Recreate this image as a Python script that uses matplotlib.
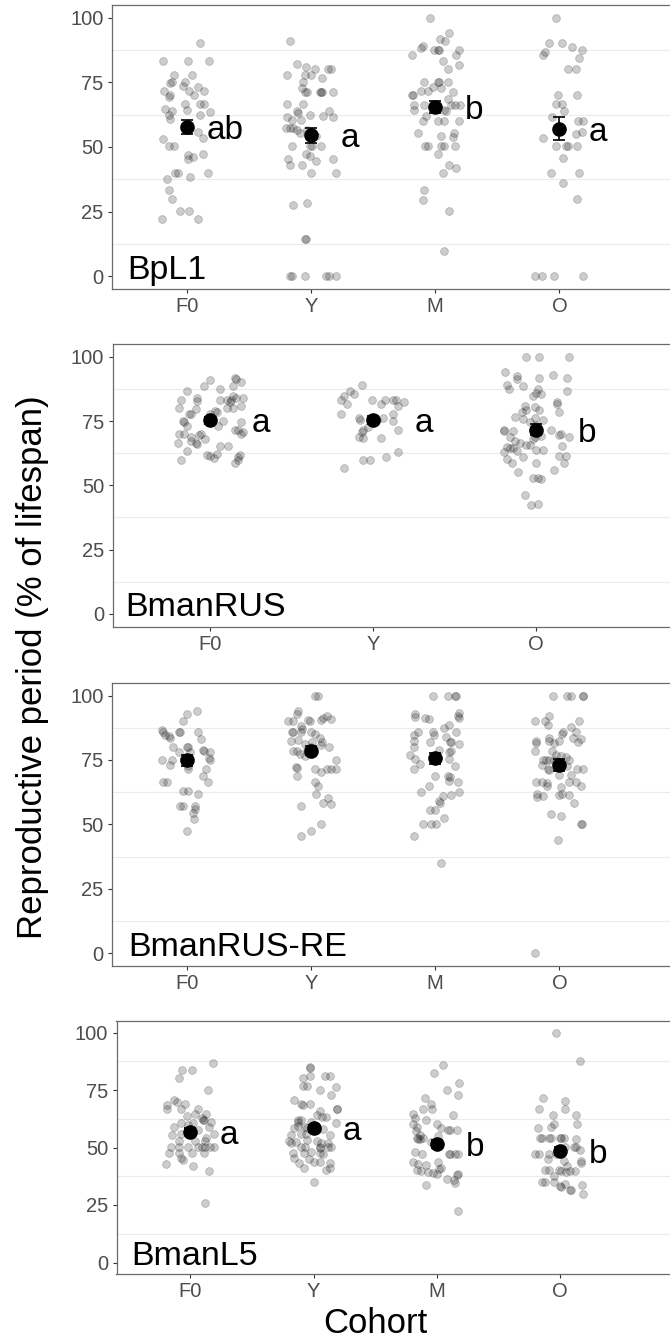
import matplotlib
matplotlib.use("Agg")
import matplotlib.pyplot as plt
from matplotlib.transforms import offset_copy, blended_transform_factory

plt.rcParams['font.family'] = ['Liberation Sans', 'DejaVu Sans']

# ---------------- data ----------------
cohorts_4 = ["F0", "Y", "M", "O"]
cohorts_3 = ["F0", "Y", "O"]

# BpL1
bpl1_F0_vals = [90.1, 83.4, 83.4, 83.4, 77.8, 77.8, 75.3, 74.9, 75.2, 73.6, 71.7, 71.7, 71.7, 73.3, 70.0, 69.4, 70.1, 66.8, 66.8, 66.8, 64.9, 63.8, 64.5, 63.6, 62.4, 62.3, 61.0, 55.7, 53.4, 53.1, 50.2, 50.2, 46.8, 46.3, 47.2, 45.5, 40.1, 40.1, 40.1, 38.5, 37.5, 33.4, 30.0, 25.1, 25.1, 22.2, 22.2]
bpl1_F0_jit = [0.11, -0.19, 0.01, 0.18, -0.10, 0.04, -0.12, -0.13, -0.01, -0.03, -0.18, 0.02, 0.14, 0.09, -0.13, -0.14, 0.06, -0.01, 0.11, 0.14, -0.17, -0.12, 0.00, 0.19, 0.11, -0.14, -0.13, 0.09, 0.13, -0.19, -0.14, -0.10, 0.01, 0.05, 0.13, 0.01, -0.09, -0.07, 0.17, 0.03, -0.16, -0.14, -0.12, -0.05, 0.02, -0.20, 0.09]
bpl1_Y_vals = [90.9, 82.1, 80.8, 80.1, 80.1, 80.1, 77.8, 77.8, 77.8, 76.9, 75.2, 72.9, 71.3, 71.3, 71.3, 71.3, 71.3, 71.3, 66.6, 66.8, 63.8, 63.2, 62.5, 63.8, 61.9, 61.6, 61.6, 60.3, 60.3, 57.2, 57.2, 57.2, 56.7, 55.4, 56.4, 54.1, 50.2, 50.2, 50.2, 50.2, 47.3, 46.7, 45.5, 45.3, 44.5, 43.0, 43.0, 40.1, 40.1, 27.4, 28.5, 14.3, 14.3, 0, 0, 0, 0, 0, 0]
bpl1_Y_jit = [-0.17, -0.11, -0.04, 0.03, 0.14, 0.16, -0.19, -0.05, 0.00, 0.09, -0.06, -0.07, -0.05, -0.03, 0.07, 0.08, 0.09, 0.18, -0.19, -0.06, -0.11, -0.10, -0.01, 0.15, 0.10, 0.18, -0.19, -0.15, -0.08, -0.20, -0.17, -0.14, -0.11, -0.09, -0.03, 0.04, -0.01, -0.15, 0.08, 0.01, -0.04, -0.01, -0.18, 0.18, 0.04, -0.17, -0.07, 0.00, 0.20, -0.14, -0.03, -0.05, -0.04, -0.17, -0.15, -0.05, 0.12, 0.15, 0.20]
bpl1_M_vals = [100, 94.1, 91.8, 90.9, 89.2, 87.6, 87.6, 87.6, 88.2, 87.6, 85.7, 85.7, 83.2, 81.8, 80.1, 75.2, 75.2, 75.2, 75.2, 73.3, 72.9, 71.7, 71.7, 71.3, 70.1, 70.1, 68.7, 66.4, 66.4, 66.4, 66.4, 66.4, 64.5, 63.8, 64.5, 61.9, 59.9, 59.9, 59.9, 59.9, 55.4, 55.4, 54.4, 53.8, 50.2, 50.2, 50.2, 50.2, 50.2, 47.2, 43.0, 41.7, 40.1, 33.5, 29.6, 25.1, 9.9]
bpl1_M_jit = [-0.04, 0.11, 0.04, 0.08, -0.10, -0.01, 0.02, 0.03, -0.11, 0.19, -0.19, 0.17, 0.06, 0.19, 0.10, -0.09, 0.02, 0.03, 0.10, -0.02, 0.05, -0.11, -0.06, 0.14, -0.19, -0.18, 0.10, -0.17, -0.09, 0.13, 0.16, 0.20, 0.07, 0.09, -0.17, -0.07, 0.02, 0.07, -0.10, 0.19, -0.14, 0.15, 0.05, 0.14, -0.08, -0.06, 0.05, 0.07, 0.16, 0.02, 0.11, 0.17, 0.06, -0.09, -0.10, 0.11, 0.07]
bpl1_O_vals = [100, 90.1, 90.1, 88.8, 86.9, 85.7, 87.6, 84.5, 80.1, 80.1, 70.1, 70.0, 66.8, 66.8, 63.8, 61.6, 60.2, 60.2, 55.7, 53.4, 55.0, 50.2, 50.2, 50.2, 50.2, 45.6, 40.1, 40.1, 35.9, 30.0, 0, 0, 0, 0]
bpl1_O_jit = [-0.03, -0.08, 0.02, 0.10, -0.12, -0.13, 0.18, 0.16, 0.07, 0.13, -0.01, 0.14, -0.03, 0.02, 0.04, -0.06, 0.15, 0.19, 0.18, -0.13, 0.13, -0.03, 0.05, 0.07, 0.14, 0.03, -0.07, 0.16, 0.03, 0.14, -0.20, -0.14, -0.04, 0.19]
bpl1_means = [57.7, 54.5, 65.5, 57.1]
bpl1_se = [2.6, 2.9, 2.4, 4.5]
bpl1_letters = ["ab", "a", "b", "a"]

# BmanRUS
rus_F0_vals = [91.6, 91.4, 90.9, 90.1, 88.8, 88.8, 87.5, 86.9, 84.0, 84.9, 84.0, 83.4, 82.7, 83.4, 83.4, 83.4, 84.0, 81.0, 82.3, 80.0, 79.7, 80.0, 80.0, 79.1, 78.4, 77.9, 77.9, 77.9, 75.2, 74.5, 75.2, 74.8, 73.2, 73.2, 71.7, 71.7, 70.6, 70.1, 70.1, 70.1, 68.8, 69.6, 67.1, 66.5, 66.0, 68.1, 66.5, 70.0, 65.2, 65.2, 63.5, 61.9, 61.3, 62.3, 60.6, 61.9, 61.0, 60.0, 58.7, 59.7]
rus_F0_jit = [0.15, 0.16, 0.00, 0.19, -0.04, 0.14, 0.06, -0.14, -0.08, 0.14, 0.20, -0.18, -0.08, 0.06, 0.10, 0.13, 0.16, 0.19, 0.12, -0.19, -0.09, 0.10, 0.14, 0.03, 0.04, -0.13, -0.12, 0.00, -0.17, -0.16, 0.08, 0.19, -0.14, 0.05, 0.15, 0.17, 0.20, 0.19, -0.19, -0.16, -0.12, -0.07, -0.12, -0.09, -0.08, -0.03, -0.20, -0.06, 0.06, 0.11, -0.14, -0.02, 0.00, 0.04, 0.02, 0.18, 0.17, -0.18, 0.15, 0.17]
rus_Y_vals = [89.0, 86.9, 85.6, 84.9, 83.4, 81.8, 83.4, 83.4, 83.4, 83.4, 82.3, 81.8, 81.0, 77.8, 77.8, 76.2, 75.3, 76.2, 75.6, 76.2, 74.9, 72.6, 71.7, 70.6, 71.4, 68.8, 68.4, 68.4, 63.0, 60.9, 60.0, 60.0, 56.8]
rus_Y_jit = [-0.07, -0.14, -0.12, -0.18, -0.20, -0.16, -0.01, 0.07, 0.12, 0.14, 0.19, 0.05, 0.15, -0.20, 0.12, -0.09, -0.08, -0.02, 0.02, 0.06, 0.12, -0.03, -0.06, -0.07, 0.15, -0.09, -0.06, 0.05, 0.15, 0.08, -0.06, -0.02, -0.18]
rus_O_vals = [99.9, 99.9, 99.9, 94.0, 92.7, 91.2, 92.9, 91.6, 91.6, 89.0, 87.5, 88.8, 87.3, 86.0, 85.6, 86.6, 84.7, 82.3, 81.8, 81.0, 80.5, 79.2, 78.4, 79.2, 78.4, 76.6, 75.8, 76.2, 75.3, 74.5, 73.6, 71.7, 71.3, 71.0, 68.8, 71.7, 70.1, 69.4, 71.0, 68.8, 68.1, 69.1, 68.8, 67.1, 66.5, 65.2, 64.9, 64.5, 64.5, 65.8, 65.8, 63.9, 63.6, 63.2, 63.1, 61.6, 61.0, 60.3, 58.7, 61.3, 58.7, 58.7, 55.1, 56.1, 52.9, 52.9, 52.6, 46.1, 42.5, 42.9]
rus_O_jit = [-0.06, 0.02, 0.20, -0.19, -0.12, -0.12, 0.10, 0.02, 0.19, -0.18, -0.17, -0.08, 0.01, 0.00, 0.03, 0.19, -0.02, 0.13, 0.13, -0.07, -0.01, -0.06, -0.09, 0.02, 0.14, -0.13, -0.08, -0.01, 0.04, -0.04, 0.00, -0.20, -0.20, -0.14, -0.16, 0.09, 0.15, 0.14, -0.02, -0.01, -0.02, 0.03, 0.20, -0.13, -0.10, 0.16, -0.18, -0.16, -0.14, -0.06, -0.04, 0.00, 0.04, -0.12, -0.20, 0.14, -0.08, -0.18, -0.15, 0.18, 0.17, 0.00, -0.11, 0.11, -0.02, 0.01, 0.03, -0.07, -0.03, 0.01]
rus_means = [75.3, 75.3, 71.7]
rus_se = [1.4, 1.6, 2.0]
rus_letters = ["a", "a", "b"]

# BmanRUS-RE
re_F0_vals = [93.9, 92.9, 90.0, 86.8, 85.7, 84.8, 84.2, 85.7, 85.7, 83.5, 85.7, 83.2, 80.0, 80.0, 80.0, 79.0, 78.6, 77.9, 77.9, 77.9, 75.1, 75.1, 75.7, 74.8, 73.1, 71.4, 71.4, 68.6, 66.6, 66.6, 66.6, 63.1, 63.1, 61.8, 57.1, 57.1, 57.1, 55.8, 54.3, 52.1, 47.5, 75.3, 72.5]
re_F0_jit = [0.08, 0.00, -0.03, -0.20, -0.19, -0.17, -0.14, -0.06, -0.05, -0.13, 0.09, 0.12, -0.11, 0.00, 0.01, 0.13, 0.14, -0.06, 0.03, 0.19, -0.20, -0.12, 0.18, 0.19, -0.13, 0.01, 0.16, 0.13, -0.19, -0.16, 0.17, -0.03, 0.01, 0.09, -0.05, -0.03, 0.07, 0.07, 0.05, 0.06, 0.00, -0.02, 0.01]
re_Y_vals = [100, 100, 93.9, 93.0, 90.0, 90.0, 90.6, 90.0, 90.6, 91.3, 91.9, 90.9, 88.1, 87.0, 85.7, 85.7, 85.7, 85.1, 85.7, 82.9, 83.5, 81.8, 80.9, 82.2, 81.3, 81.8, 80.0, 78.6, 78.3, 77.3, 79.0, 75.1, 72.2, 72.0, 71.4, 70.5, 71.4, 71.4, 71.4, 68.6, 66.6, 64.7, 61.8, 60.4, 58.4, 57.9, 57.1, 50.0, 47.5, 45.6, 80.0, 76.6]
re_Y_jit = [0.03, 0.06, -0.10, -0.11, -0.18, -0.14, -0.02, -0.01, 0.08, 0.10, 0.13, 0.16, -0.08, -0.07, -0.15, -0.14, 0.00, 0.03, -0.08, -0.10, 0.07, 0.09, 0.08, -0.16, -0.05, 0.01, 0.15, -0.14, -0.11, -0.09, -0.03, 0.20, -0.12, -0.11, 0.03, 0.08, 0.13, 0.16, 0.20, -0.11, 0.03, 0.06, 0.04, 0.14, 0.10, 0.16, -0.08, 0.08, 0.00, -0.08, 0.00, -0.05]
re_M_vals = [100, 100, 100, 100, 93.0, 91.7, 91.3, 90.9, 93.2, 91.9, 91.3, 85.7, 84.8, 85.7, 84.8, 87.4, 88.7, 85.7, 82.2, 80.0, 81.8, 81.8, 81.8, 81.3, 79.0, 78.3, 77.0, 75.3, 75.3, 73.5, 71.4, 72.7, 68.8, 68.8, 68.2, 67.0, 66.6, 64.7, 62.5, 62.5, 61.4, 61.0, 59.2, 58.2, 55.6, 55.6, 52.3, 50.0, 50.0, 50.0, 45.6, 34.8, 78.0, 84.0]
re_M_jit = [-0.02, 0.10, 0.16, 0.17, -0.16, -0.16, -0.08, -0.05, 0.19, 0.18, 0.19, -0.02, -0.01, -0.14, -0.17, 0.07, 0.11, 0.17, -0.17, -0.17, -0.04, 0.12, 0.13, 0.19, 0.03, 0.13, -0.20, -0.16, 0.11, -0.12, -0.17, 0.16, 0.00, 0.10, 0.12, 0.11, 0.18, -0.05, -0.11, 0.19, 0.13, 0.06, 0.03, 0.04, -0.04, 0.00, 0.07, -0.10, -0.03, 0.01, -0.17, 0.05, 0.11, 0.09]
re_O_vals = [100, 100, 100, 100, 100, 91.9, 90.0, 90.0, 88.7, 90.0, 87.8, 85.7, 85.2, 85.7, 83.5, 82.2, 81.6, 82.2, 81.6, 82.2, 83.5, 83.1, 81.8, 78.6, 78.6, 77.0, 76.6, 76.1, 75.1, 75.1, 75.1, 75.1, 75.1, 73.1, 71.4, 71.2, 72.5, 71.4, 71.4, 69.2, 69.2, 66.6, 66.6, 66.0, 66.6, 66.6, 64.7, 64.4, 64.7, 61.8, 60.5, 61.0, 61.4, 61.8, 61.4, 58.4, 53.9, 53.2, 50.0, 50.0, 43.9, 0]
re_O_jit = [-0.05, 0.06, 0.09, 0.19, 0.19, -0.08, -0.20, -0.12, -0.09, 0.16, 0.09, 0.03, 0.02, 0.13, -0.08, -0.19, -0.19, -0.08, -0.04, 0.00, 0.11, 0.17, 0.15, -0.20, -0.06, -0.03, 0.01, 0.05, -0.13, -0.11, -0.08, -0.04, 0.08, -0.14, -0.09, -0.08, 0.06, 0.14, 0.19, 0.00, 0.09, -0.19, -0.14, -0.10, 0.08, 0.13, -0.10, 0.01, 0.17, -0.18, -0.18, -0.13, 0.00, 0.02, 0.08, 0.12, -0.07, 0.01, 0.17, 0.18, -0.01, -0.20]
re_means = [74.8, 78.6, 75.7, 73.1]
re_se = [2.0, 1.8, 2.1, 2.2]
re_letters = ["", "", "", ""]

# BmanL5
l5_F0_vals = [86.9, 83.5, 83.5, 80.3, 75.2, 70.8, 69.6, 68.6, 66.7, 68.9, 66.7, 66.9, 63.8, 64.7, 64.7, 62.8, 61.8, 61.8, 61.3, 58.8, 60.6, 58.8, 59.8, 60.6, 57.4, 55.5, 55.9, 55.9, 53.0, 54.0, 53.0, 53.0, 50.1, 50.1, 50.1, 50.1, 50.1, 50.4, 50.4, 50.1, 47.7, 47.7, 47.4, 47.7, 45.3, 44.5, 42.8, 41.9, 39.9, 26.0]
l5_F0_jit = [0.18, -0.07, 0.01, -0.09, 0.14, -0.13, -0.11, -0.19, -0.19, -0.04, -0.08, 0.06, -0.03, 0.04, 0.13, 0.09, 0.10, 0.11, 0.17, 0.15, -0.08, -0.13, -0.02, 0.02, 0.06, -0.15, -0.08, 0.19, 0.04, 0.13, 0.12, -0.09, -0.16, -0.09, -0.02, 0.06, 0.09, 0.12, 0.16, 0.19, -0.17, -0.09, 0.01, 0.11, -0.08, -0.06, -0.20, 0.02, 0.15, 0.12]
l5_Y_vals = [85.0, 84.7, 80.3, 81.3, 81.3, 81.3, 76.9, 76.9, 76.4, 75.2, 73.0, 70.5, 69.1, 68.6, 68.9, 66.9, 66.7, 66.0, 64.2, 63.2, 62.0, 60.9, 61.8, 61.3, 63.2, 60.6, 58.4, 59.4, 58.8, 58.4, 57.7, 58.0, 55.5, 55.8, 55.9, 55.5, 53.0, 52.1, 52.6, 53.3, 53.0, 52.1, 52.1, 50.1, 50.1, 50.4, 49.9, 50.1, 47.5, 47.5, 48.0, 47.5, 47.2, 45.3, 44.8, 43.4, 43.8, 43.5, 43.1, 41.3, 40.4, 41.3, 35.2, 50.1]
l5_Y_jit = [-0.03, -0.03, -0.09, -0.03, 0.09, 0.13, -0.09, -0.05, 0.18, 0.05, 0.14, -0.16, -0.10, -0.09, -0.03, 0.19, 0.19, 0.05, 0.03, 0.10, -0.13, -0.13, -0.10, -0.02, 0.07, 0.18, -0.16, -0.13, -0.07, -0.05, 0.03, 0.08, -0.18, -0.10, -0.06, 0.13, -0.20, -0.18, -0.14, -0.05, 0.03, 0.06, 0.12, -0.10, -0.07, 0.05, 0.05, 0.14, -0.17, -0.08, -0.02, 0.05, 0.08, -0.16, -0.04, -0.12, 0.00, 0.05, 0.13, -0.08, 0.10, 0.13, 0.00, 0.12]
l5_M_vals = [85.8, 82.5, 78.1, 75.2, 72.7, 71.5, 69.1, 66.7, 66.7, 64.7, 64.2, 61.8, 62.8, 60.3, 59.1, 60.3, 58.4, 57.4, 57.4, 57.4, 57.0, 55.5, 54.0, 53.6, 53.7, 54.0, 55.0, 52.6, 48.2, 47.2, 47.2, 47.2, 47.2, 47.2, 43.8, 42.8, 42.3, 43.8, 40.9, 40.5, 40.1, 39.7, 39.4, 38.7, 38.4, 38.0, 38.4, 36.1, 35.8, 34.6, 33.6, 22.3]
l5_M_jit = [0.05, -0.02, 0.18, 0.08, 0.17, -0.10, -0.05, -0.04, -0.11, -0.19, 0.13, -0.09, -0.18, -0.19, -0.16, 0.00, 0.03, 0.09, 0.11, 0.16, -0.17, -0.14, -0.16, -0.15, -0.14, -0.11, 0.01, -0.05, -0.18, -0.12, 0.10, 0.11, 0.15, 0.17, -0.19, -0.15, -0.09, 0.01, 0.03, 0.02, -0.16, -0.13, -0.07, -0.03, 0.00, 0.16, 0.17, 0.08, 0.14, 0.15, -0.09, 0.17]
l5_O_vals = [100, 87.6, 71.5, 70.1, 66.9, 66.9, 64.2, 64.2, 60.1, 58.8, 60.1, 58.4, 54.0, 54.0, 54.0, 54.0, 54.0, 54.0, 54.3, 53.7, 47.0, 47.0, 47.0, 50.4, 50.4, 50.1, 47.0, 44.2, 43.4, 40.1, 40.1, 40.4, 39.9, 39.4, 39.9, 39.9, 37.7, 35.0, 35.0, 35.0, 34.0, 32.8, 31.7, 31.7, 33.1, 33.6, 29.9, 44.2, 48.9, 45.0, 42.0]
l5_O_jit = [-0.03, 0.16, -0.14, 0.04, -0.17, 0.04, -0.06, 0.13, -0.05, -0.07, 0.14, -0.18, -0.15, -0.16, -0.09, -0.07, 0.00, 0.01, 0.03, 0.13, -0.20, -0.17, -0.09, 0.04, 0.11, 0.13, -0.03, 0.17, 0.17, -0.12, -0.09, -0.01, 0.01, 0.05, 0.08, 0.12, -0.05, -0.15, -0.12, -0.05, 0.04, 0.01, 0.08, 0.09, 0.00, 0.18, 0.19, 0.03, 0.16, -0.10, 0.06]
l5_means = [56.9, 58.4, 51.5, 48.6]
l5_se = [1.5, 1.6, 1.8, 1.8]
l5_letters = ["a", "a", "b", "b"]

y_ticks = [0, 25, 50, 75, 100]
y_minor = [12.5, 37.5, 62.5, 87.5]

panels = [
    dict(name="BpL1", cats=cohorts_4,
         vals=[bpl1_F0_vals, bpl1_Y_vals, bpl1_M_vals, bpl1_O_vals],
         jit=[bpl1_F0_jit, bpl1_Y_jit, bpl1_M_jit, bpl1_O_jit],
         means=bpl1_means, se=bpl1_se, letters=bpl1_letters,
         box=(112, 5, 289), label_dx=15.5),
    dict(name="BmanRUS", cats=cohorts_3,
         vals=[rus_F0_vals, rus_Y_vals, rus_O_vals],
         jit=[rus_F0_jit, rus_Y_jit, rus_O_jit],
         means=rus_means, se=rus_se, letters=rus_letters,
         box=(112.5, 344, 626.7), label_dx=12.5),
    dict(name="BmanRUS-RE", cats=cohorts_4,
         vals=[re_F0_vals, re_Y_vals, re_M_vals, re_O_vals],
         jit=[re_F0_jit, re_Y_jit, re_M_jit, re_O_jit],
         means=re_means, se=re_se, letters=re_letters,
         box=(112, 682.7, 966), label_dx=16.5),
    dict(name="BmanL5", cats=cohorts_4,
         vals=[l5_F0_vals, l5_Y_vals, l5_M_vals, l5_O_vals],
         jit=[l5_F0_jit, l5_Y_jit, l5_M_jit, l5_O_jit],
         means=l5_means, se=l5_se, letters=l5_letters,
         box=(116.5, 1021, 1274), label_dx=14.5),
]

# ---------------- figure ----------------
W, H = 670, 1339
fig = plt.figure(figsize=(W / 100, H / 100), dpi=100)

RIGHT_PX = 700      # axes continue past the image edge
DATA_END_PX = 634   # where the category scale ends

tick_col = '#4d4d4d'
for p in panels:
    left, top, bottom = p["box"]
    ax = fig.add_axes([left / W, 1 - bottom / H, (RIGHT_PX - left) / W, (bottom - top) / H])
    n = len(p["cats"])
    xr = -0.6 + (n + 0.2) * (RIGHT_PX - left) / (DATA_END_PX - left)
    ax.set_xlim(-0.6, xr)
    ax.set_ylim(-5, 105)

    ax.set_yticks(y_ticks)
    ax.set_yticks(y_minor, minor=True)
    ax.grid(which='minor', axis='y', color='#ebebeb', lw=0.8)
    ax.grid(which='major', visible=False)
    ax.set_axisbelow(True)
    ax.set_xticks(range(n))
    ax.set_xticklabels(p["cats"])
    ax.tick_params(which='major', length=3, width=0.8, color='#333333',
                   labelcolor=tick_col, labelsize=14.5, pad=3)
    ax.tick_params(which='minor', length=0)
    for s in ax.spines.values():
        s.set_color('#6a6a6a')
        s.set_linewidth(0.9)

    for i, (vals, jit) in enumerate(zip(p["vals"], p["jit"])):
        xs = [i + j for j in jit]
        ax.scatter(xs[:len(vals)], vals[:len(xs)], s=32,
                   facecolors=(0, 0, 0, 0.2), edgecolors=(0, 0, 0, 0.2),
                   linewidths=0.6, zorder=3)

    ax.errorbar(range(n), p["means"], yerr=p["se"], fmt='o', color='black',
                ms=9.5, capsize=4.3, elinewidth=1.2, capthick=1.2, zorder=5)

    for i, (m, lab) in enumerate(zip(p["means"], p["letters"])):
        if lab:
            ax.annotate(lab, xy=(i + 0.31, m), xytext=(0, -12 * 72 / 100),
                        textcoords='offset points', ha='center', va='baseline',
                        fontsize=24, color='black', zorder=6)

    trans = blended_transform_factory(ax.transAxes, ax.transData)
    trans = offset_copy(trans, fig=fig, x=p["label_dx"], y=0, units='dots')
    ax.text(0, -1, p["name"], transform=trans, ha='left', va='baseline',
            fontsize=24.5, color='black', zorder=6)

fig.text(33 / W, 1 - 667 / H, "Reproductive period (% of lifespan)",
         rotation=90, ha='center', va='center', fontsize=25, color='black')
fig.text(375 / W, 1 - 1333 / H, "Cohort", ha='center', va='baseline',
         fontsize=25, color='black')

fig.savefig("out.png", dpi=100)
